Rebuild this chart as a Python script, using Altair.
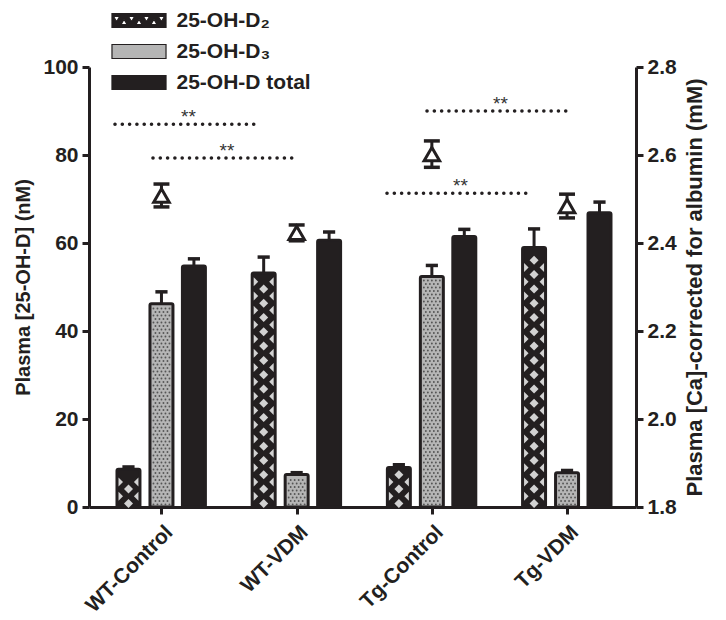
import altair as alt
import pandas as pd

# ---------------- data ----------------
groups = ["WT-Control", "WT-VDM", "Tg-Control", "Tg-VDM"]
series = ["25-OH-D₂", "25-OH-D₃", "25-OH-D total"]

d2_mean = [8.6, 53.2, 9.0, 59.0]
d2_err = [0.5, 3.6, 0.6, 4.2]
d3_mean = [46.2, 7.4, 52.4, 7.8]
d3_err = [2.7, 0.4, 2.5, 0.5]
tot_mean = [54.8, 60.6, 61.5, 66.9]
tot_err = [1.6, 1.9, 1.6, 2.4]

ca_mean = [2.508, 2.423, 2.602, 2.484]   # right axis, mM
ca_err = [0.026, 0.018, 0.030, 0.027]

sig_start = [-0.344, -0.063, 1.964, 1.668]
sig_end = [0.714, 1.002, 3.020, 2.725]
sig_y = [87.0, 79.3, 90.0, 71.3]
sig_label = ["**", "**", "**", "**"]

# ---------------- style ----------------
BLACK = "#231f20"
FONT = "Liberation Sans"
series_fill = [BLACK, "#b5b5b5", BLACK]
bar_offset = [-0.244, 0.0, 0.240]
bar_half = 0.085
U_PER_PX = 1 / 135.2
V_PER_PX = 1 / 4.4
X_DOMAIN = [-0.536, 3.51]

RIGHT_HALF = "M0,-1L1,0L0,1Z"
LEFT_HALF = "M0,-1L-1,0L0,1Z"
RECT_PATH = "M-3.86,-1H3.86V1H-3.86Z"
holes = ""
for k in range(7):
    cx = -3.2 + k * 1.067
    if k % 2 == 0:
        holes += f"M{cx-0.45:.3f},-0.6L{cx:.3f},0.2L{cx+0.45:.3f},-0.6Z"
    else:
        holes += f"M{cx:.3f},-0.2L{cx-0.45:.3f},0.6L{cx+0.45:.3f},0.6Z"
D2_PATH = RECT_PATH + holes

means = [d2_mean, d3_mean, tot_mean]
errs = [d2_err, d3_err, tot_err]

bar_rows = []
for s, name in enumerate(series):
    for g, grp in enumerate(groups):
        xc = g + bar_offset[s]
        bar_rows.append(dict(group=grp, series=name, xc=xc,
                             x0=xc - bar_half, x1=xc + bar_half,
                             mean=means[s][g], top=means[s][g] + errs[s][g],
                             cap0=xc - 0.045, cap1=xc + 0.045))
bars_df = pd.DataFrame(bar_rows)

tex_rows = []
for g in range(len(groups)):
    xc = g + bar_offset[0]
    inner = d2_mean[g] / V_PER_PX - 1.5
    k = 0
    while 3.6 + 7.15 * k + 4.5 <= inner:
        yv = (3.6 + 7.15 * k) * V_PER_PX
        if k % 2 == 0:
            tex_rows.append(dict(x=xc, y=yv, kind="c"))
        else:
            tex_rows.append(dict(x=xc - bar_half + 1.5 * U_PER_PX, y=yv, kind="l"))
            tex_rows.append(dict(x=xc + bar_half - 1.5 * U_PER_PX, y=yv, kind="r"))
        k += 1
tex_df = pd.DataFrame(tex_rows)

dot_rows = []
for g in range(len(groups)):
    xc = g + bar_offset[1]
    inner = d3_mean[g] / V_PER_PX - 2.5
    k = 0
    while 2.5 + 3.5 * k + 1 <= inner:
        offs = [-8, -4, 0, 4, 8] if k % 2 == 0 else [-6, -2, 2, 6]
        for o in offs:
            dot_rows.append(dict(x=xc + o * U_PER_PX, y=(2.5 + 3.5 * k) * V_PER_PX))
        k += 1
dot_df = pd.DataFrame(dot_rows)

sig_df = pd.DataFrame(dict(x0=sig_start, x1=sig_end, y=sig_y, label=sig_label,
                           xm=[(a + b) / 2 + 0.015 for a, b in zip(sig_start, sig_end)]))

ca_df = pd.DataFrame(dict(x=list(range(len(groups))), mean=ca_mean,
                          lo=[m - e for m, e in zip(ca_mean, ca_err)],
                          hi=[m + e for m, e in zip(ca_mean, ca_err)]))
ca_caps = pd.DataFrame(dict(
    c0=[i - 0.059 for i in range(len(groups))] * 2,
    c1=[i + 0.059 for i in range(len(groups))] * 2,
    y=list(ca_df["lo"]) + list(ca_df["hi"])))

# ---------------- scales / axes ----------------
xscale = alt.Scale(domain=X_DOMAIN, nice=False, zero=False)
yl_scale = alt.Scale(domain=[0, 100], nice=False)
yr_scale = alt.Scale(domain=[1.8, 2.8], nice=False, zero=False)
color_scale = alt.Scale(domain=series, range=series_fill)
shape_scale = alt.Scale(domain=series, range=[D2_PATH, RECT_PATH, RECT_PATH])

label_expr = ""
for i, g in enumerate(groups[:-1]):
    label_expr += f"datum.value == {i} ? '{g}' : "
label_expr += f"'{groups[-1]}'"

x_axis = alt.Axis(values=list(range(len(groups))), labelExpr=label_expr, title=None,
                  grid=False, labelAngle=315, labelAlign="right", labelBaseline="top",
                  labelFont=FONT, labelFontSize=21, labelFontWeight="bold",
                  labelColor=BLACK, labelPadding=7, labelFlush=False, labelOverlap=False,
                  domainColor=BLACK, domainWidth=3, tickColor=BLACK, tickWidth=3, tickSize=7)

left_axis = alt.Axis(values=[0, 20, 40, 60, 80, 100], title="Plasma [25-OH-D] (nM)",
                     grid=False, domainColor=BLACK, domainWidth=3, tickColor=BLACK,
                     tickWidth=3, tickSize=7, labelFont=FONT, labelFontSize=21,
                     labelFontWeight="bold", labelColor=BLACK, labelPadding=4,
                     titleFont=FONT, titleFontSize=20, titleFontWeight="bold",
                     titleColor=BLACK, titlePadding=9)

right_axis = alt.Axis(orient="right", values=[1.8, 2.0, 2.2, 2.4, 2.6, 2.8], format=".1f",
                      title="Plasma [Ca]-corrected for albumin (mM)", titleAngle=270,
                      titleBaseline="top",
                      grid=False, domainColor=BLACK, domainWidth=3, tickColor=BLACK,
                      tickWidth=3, tickSize=7, labelFont=FONT, labelFontSize=21,
                      labelFontWeight="bold", labelColor=BLACK, labelPadding=4,
                      titleFont=FONT, titleFontSize=22, titleFontWeight="bold",
                      titleColor=BLACK, titlePadding=8)

legend = alt.Legend(title=None, orient="none", legendX=11.5, legendY=-57,
                    symbolSize=196, symbolOffset=28,
                    labelOffset=27, labelFont=FONT, labelFontSize=21,
                    labelFontWeight="bold", labelColor=BLACK, labelLimit=400,
                    rowPadding=9, symbolStrokeColor=BLACK, symbolStrokeWidth=1.2,
                    padding=0)


def X(field):
    return alt.X(field, scale=xscale, axis=x_axis)


# ---------------- layers ----------------
bars = alt.Chart(bars_df).mark_bar(stroke=BLACK, strokeWidth=3, cornerRadius=1.5).encode(
    x=X("x0:Q"),
    x2="x1:Q",
    y=alt.Y("mean:Q", scale=yl_scale, axis=left_axis),
    y2=alt.datum(0),
    color=alt.Color("series:N", scale=color_scale, legend=legend),
)

ca_rule = alt.Chart(ca_df).mark_rule(color=BLACK, strokeWidth=3).encode(
    x=X("x:Q"),
    y=alt.Y("lo:Q", scale=yr_scale, axis=right_axis),
    y2="hi:Q",
)

legend_pts = alt.Chart(bars_df).mark_point(filled=True, size=0, opacity=1).encode(
    x=X("xc:Q"),
    y=alt.Y("mean:Q", scale=yl_scale, axis=None),
    color=alt.Color("series:N", scale=color_scale, legend=legend),
    shape=alt.Shape("series:N", scale=shape_scale, legend=legend),
)


def tex_layer(kind, shape):
    return alt.Chart(tex_df).transform_filter(alt.datum.kind == kind).mark_point(
        filled=True, size=81, color="#d2d2d2", strokeWidth=0, opacity=1, shape=shape
    ).encode(
        x=X("x:Q"),
        y=alt.Y("y:Q", scale=yl_scale, axis=None),
    )


tex_c = tex_layer("c", "diamond")
tex_l = tex_layer("l", RIGHT_HALF)
tex_r = tex_layer("r", LEFT_HALF)

dots = alt.Chart(dot_df).mark_point(filled=True, size=3.5, color="#555555",
                                    strokeWidth=0, opacity=1, shape="circle").encode(
    x=X("x:Q"),
    y=alt.Y("y:Q", scale=yl_scale, axis=None),
)

err_rule = alt.Chart(bars_df).mark_rule(color=BLACK, strokeWidth=3).encode(
    x=X("xc:Q"),
    y=alt.Y("mean:Q", scale=yl_scale, axis=None),
    y2="top:Q",
)
err_cap = alt.Chart(bars_df).mark_rule(color=BLACK, strokeWidth=3.5).encode(
    x=X("cap0:Q"),
    x2="cap1:Q",
    y=alt.Y("top:Q", scale=yl_scale, axis=None),
)

sig_lines = alt.Chart(sig_df).mark_rule(color=BLACK, strokeWidth=3.5, strokeDash=[0.1, 7.2],
                                        strokeCap="round").encode(
    x=X("x0:Q"),
    x2="x1:Q",
    y=alt.Y("y:Q", scale=yl_scale, axis=None),
)
sig_text = alt.Chart(sig_df).mark_text(font=FONT, fontSize=19, color="#333333",
                                       baseline="alphabetic", dy=-1).encode(
    x=X("xm:Q"),
    y=alt.Y("y:Q", scale=yl_scale, axis=None),
    text="label:N",
)

ca_cap = alt.Chart(ca_caps).mark_rule(color=BLACK, strokeWidth=3.5).encode(
    x=X("c0:Q"),
    x2="c1:Q",
    y=alt.Y("y:Q", scale=yr_scale, axis=None),
)
ca_pt = alt.Chart(ca_df).mark_point(shape="triangle-up", size=240, filled=True,
                                    fill="white", stroke=BLACK, strokeWidth=3,
                                    opacity=1).encode(
    x=X("x:Q"),
    y=alt.Y("mean:Q", scale=yr_scale, axis=None),
)

chart = alt.layer(bars, ca_rule, legend_pts, tex_c, tex_l, tex_r, dots, err_rule, err_cap,
                  sig_lines, sig_text, ca_cap, ca_pt).resolve_scale(y="independent").properties(
    width=547, height=440,
    autosize=alt.AutoSizeParams(type="none"),
    padding={"left": 81, "top": 59, "right": 82, "bottom": 108},
).configure(font=FONT).configure_view(stroke=None)

chart.save("out.html", embed_options={"renderer": "svg", "actions": False})
